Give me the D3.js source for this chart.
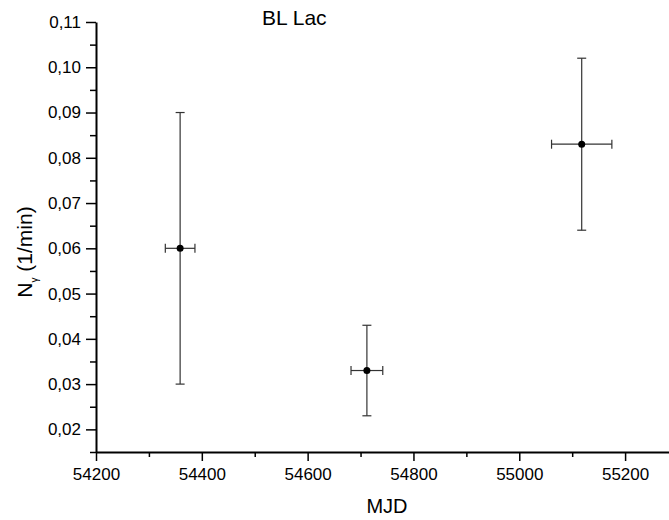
<!DOCTYPE html>
<html><head><meta charset="utf-8">
<script src="https://cdn.jsdelivr.net/npm/d3@7"></script>
<style>body{margin:0;background:#fff;} svg{display:block;font-family:Arial,"Liberation Sans",sans-serif;}</style>
</head><body>
<svg id="c" width="669" height="520"></svg>
<script>
const mjd = [54359, 54712, 55118];
const flux = [0.060, 0.033, 0.083];
const mjdErr = [28, 30, 57];
const fluxLow = [0.030, 0.023, 0.064];
const fluxHigh = [0.090, 0.043, 0.102];
const xTicks = [54200, 54400, 54600, 54800, 55000, 55200];
const yTicks = [0.02, 0.03, 0.04, 0.05, 0.06, 0.07, 0.08, 0.09, 0.10, 0.11];

const svg = d3.select("#c");
const x = d3.scaleLinear().domain([54200, 55300]).range([96, 678]);
const y = d3.scaleLinear().domain([0.015, 0.11]).range([452, 22]);
const fmt = v => d3.format(".2f")(v).replace(".", ",");

// minor ticks
const xMinor = d3.range(54300, 55300, 200);
const yMinor = d3.range(0.015, 0.11, 0.01).map(v => +v.toFixed(3));
svg.append("g").attr("transform","translate(0,452)")
  .call(d3.axisBottom(x).tickValues(xMinor).tickSize(5).tickFormat(""))
  .call(g => g.select(".domain").remove())
  .call(g => g.selectAll("line").attr("stroke","#000").attr("stroke-width",1.5));
svg.append("g").attr("transform","translate(96,0)")
  .call(d3.axisLeft(y).tickValues(yMinor).tickSize(6).tickFormat(""))
  .call(g => g.select(".domain").remove())
  .call(g => g.selectAll("line").attr("stroke","#000").attr("stroke-width",1.5));

// major axes
const gx = svg.append("g").attr("transform","translate(0,452)")
  .call(d3.axisBottom(x).tickValues(xTicks).tickSize(9).tickPadding(7).tickSizeOuter(0).tickFormat(d3.format("d")));
gx.select(".domain").attr("stroke","#000").attr("stroke-width",2);
gx.selectAll("line").attr("stroke","#000").attr("stroke-width",1.5);
gx.selectAll("text").attr("font-size",17).attr("fill","#000").attr("font-family","Arial, 'Liberation Sans', sans-serif");

const gy = svg.append("g").attr("transform","translate(96,0)")
  .call(d3.axisLeft(y).tickValues(yTicks).tickSize(10).tickPadding(5).tickSizeOuter(0).tickFormat(fmt));
gy.select(".domain").attr("stroke","#000").attr("stroke-width",2);
gy.selectAll("line").attr("stroke","#000").attr("stroke-width",1.5);
gy.selectAll("text").attr("font-size",17).attr("fill","#000").attr("font-family","Arial, 'Liberation Sans', sans-serif");

// error bars
const ec = "#333";
const pts = mjd.map((m,i)=>({m, f:flux[i], xe:mjdErr[i], lo:fluxLow[i], hi:fluxHigh[i]}));
const eb = svg.append("g").attr("stroke",ec).attr("stroke-width",1.2).attr("fill","none");
pts.forEach(p=>{
  const cx = x(p.m), cy = y(p.f);
  eb.append("line").attr("x1",cx).attr("x2",cx).attr("y1",y(p.lo)).attr("y2",y(p.hi));
  eb.append("line").attr("x1",cx-4.5).attr("x2",cx+4.5).attr("y1",y(p.lo)).attr("y2",y(p.lo));
  eb.append("line").attr("x1",cx-4.5).attr("x2",cx+4.5).attr("y1",y(p.hi)).attr("y2",y(p.hi));
  eb.append("line").attr("x1",x(p.m-p.xe)).attr("x2",x(p.m+p.xe)).attr("y1",cy).attr("y2",cy);
  eb.append("line").attr("x1",x(p.m-p.xe)).attr("x2",x(p.m-p.xe)).attr("y1",cy-4.5).attr("y2",cy+4.5);
  eb.append("line").attr("x1",x(p.m+p.xe)).attr("x2",x(p.m+p.xe)).attr("y1",cy-4.5).attr("y2",cy+4.5);
});
svg.append("g").selectAll("circle").data(pts).join("circle")
  .attr("cx",d=>x(d.m)).attr("cy",d=>y(d.f)).attr("r",3.5).attr("fill","#000");

// labels
svg.append("text").attr("x",262).attr("y",25).attr("font-size",21).attr("fill","#000").text("BL Lac");
svg.append("text").attr("x",387).attr("y",513).attr("text-anchor","middle").attr("font-size",20).attr("fill","#000").text("MJD");
const yl = svg.append("text").attr("transform","translate(32,252) rotate(-90)").attr("text-anchor","middle").attr("font-size",21).attr("fill","#000");
yl.append("tspan").text("N");
yl.append("tspan").attr("font-size",10).attr("dy",6).text("γ");
yl.append("tspan").attr("dy",-6).text("  (1/min)");
</script>
</body></html>
